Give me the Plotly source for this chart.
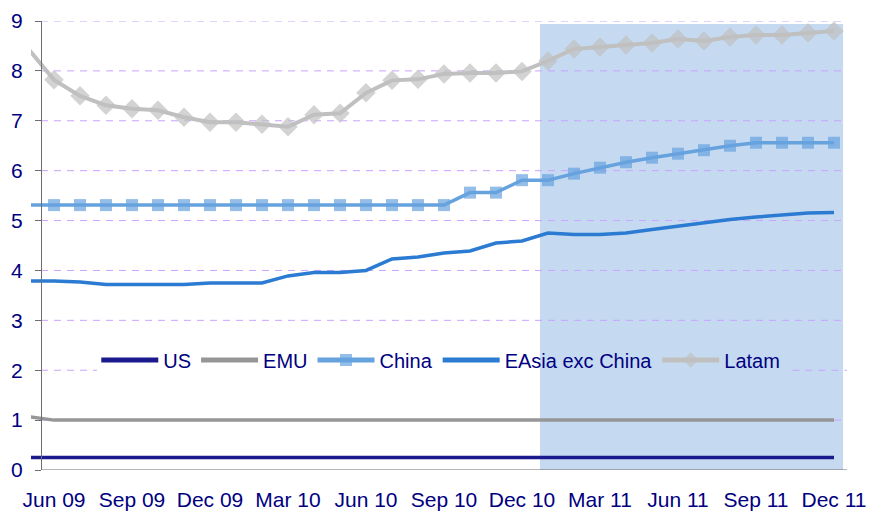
import plotly.graph_objects as go

# Monthly categories; the first one sits just left of the value axis
months = ["May 09", "Jun 09", "Jul 09", "Aug 09", "Sep 09", "Oct 09", "Nov 09", "Dec 09",
          "Jan 10", "Feb 10", "Mar 10", "Apr 10", "May 10", "Jun 10", "Jul 10", "Aug 10",
          "Sep 10", "Oct 10", "Nov 10", "Dec 10", "Jan 11", "Feb 11", "Mar 11", "Apr 11",
          "May 11", "Jun 11", "Jul 11", "Aug 11", "Sep 11", "Oct 11", "Nov 11", "Dec 11"]
tick_labels = ["Jun 09", "Sep 09", "Dec 09", "Mar 10", "Jun 10", "Sep 10",
               "Dec 10", "Mar 11", "Jun 11", "Sep 11", "Dec 11"]
y_ticks = [0, 1, 2, 3, 4, 5, 6, 7, 8, 9]

us = [0.25, 0.25, 0.25, 0.25, 0.25, 0.25, 0.25, 0.25, 0.25, 0.25, 0.25, 0.25, 0.25, 0.25, 0.25, 0.25,
      0.25, 0.25, 0.25, 0.25, 0.25, 0.25, 0.25, 0.25, 0.25, 0.25, 0.25, 0.25, 0.25, 0.25, 0.25, 0.25]
emu = [1.07, 1.00, 1.00, 1.00, 1.00, 1.00, 1.00, 1.00, 1.00, 1.00, 1.00, 1.00, 1.00, 1.00, 1.00, 1.00,
       1.00, 1.00, 1.00, 1.00, 1.00, 1.00, 1.00, 1.00, 1.00, 1.00, 1.00, 1.00, 1.00, 1.00, 1.00, 1.00]
china = [5.31, 5.31, 5.31, 5.31, 5.31, 5.31, 5.31, 5.31, 5.31, 5.31, 5.31, 5.31, 5.31, 5.31, 5.31, 5.31,
         5.31, 5.56, 5.56, 5.81, 5.81, 5.94, 6.06, 6.17, 6.26, 6.34, 6.41, 6.50, 6.56, 6.56, 6.56, 6.56]
easia = [3.79, 3.79, 3.77, 3.72, 3.72, 3.72, 3.72, 3.75, 3.75, 3.75, 3.89, 3.96, 3.96, 4.00, 4.23, 4.27,
         4.35, 4.39, 4.55, 4.59, 4.75, 4.72, 4.72, 4.75, 4.82, 4.89, 4.95, 5.02, 5.07, 5.11, 5.15, 5.16]
latam = [8.45, 7.82, 7.50, 7.31, 7.24, 7.21, 7.07, 6.97, 6.97, 6.93, 6.88, 7.12, 7.15, 7.56, 7.81, 7.83,
         7.94, 7.96, 7.96, 7.99, 8.20, 8.44, 8.48, 8.52, 8.56, 8.64, 8.60, 8.68, 8.72, 8.72, 8.76, 8.80]

# Forecast period shading (category index units, May 09 = 0)
forecast_start, forecast_end = 19.69, 31.35

NAVY = "#000080"
FONT = "Liberation Sans, Arial, sans-serif"
FS = 21
GRID = "#C9A3FF"
AXIS = "#6E6E6E"

n = len(months)
hide_first = [0] + [1] * (n - 1)

fig = go.Figure()
fig.add_trace(go.Scatter(x=months, y=us, name="US", mode="lines",
                         line=dict(color="#1A1A8E", width=3.5)))
fig.add_trace(go.Scatter(x=months, y=emu, name="EMU", mode="lines",
                         line=dict(color="#969696", width=3.5)))
fig.add_trace(go.Scatter(x=months, y=china, name="China", mode="lines+markers",
                         line=dict(color="#66A2DE", width=3.5),
                         marker=dict(symbol="square", color="#66A2DE", line=dict(width=0),
                                     size=[12 * k for k in hide_first])))
fig.add_trace(go.Scatter(x=months, y=easia, name="EAsia exc China", mode="lines",
                         line=dict(color="#2B7BD2", width=3.5)))
fig.add_trace(go.Scatter(x=months, y=latam, name="Latam", mode="lines+markers",
                         line=dict(color="#C0C0C0", width=4),
                         marker=dict(symbol="diamond", color="#C0C0C0", line=dict(width=0),
                                     size=[15 * k for k in hide_first])))

shapes = [dict(type="rect", xref="x", yref="y", x0=forecast_start, x1=forecast_end,
               y0=0, y1=8.94, fillcolor="#C5DAF1", line=dict(width=0), layer="below")]
for v in y_ticks[1:]:
    segs = [(0.5, 31.5)]
    if v == 2:
        segs = [(0.5, 2.65), (29.4, 31.5)]
    for a, b in segs:
        shapes.append(dict(type="line", xref="x", yref="y", x0=a, x1=b, y0=v, y1=v,
                           line=dict(color=GRID, width=1, dash="7px,6px"), layer="below"))
shapes.append(dict(type="line", xref="x", yref="y", x0=0.5, x1=31.5, y0=0, y1=0,
                   line=dict(color=AXIS, width=1.2), layer="above"))

fig.update_layout(
    width=871, height=512,
    margin=dict(l=31, r=24, t=21, b=42, autoexpand=False),
    paper_bgcolor="white", plot_bgcolor="white",
    font=dict(family=FONT, size=FS, color=NAVY),
    shapes=shapes,
    showlegend=True,
    legend=dict(orientation="h", x=0.08, y=0.245, xanchor="left", yanchor="middle",
                bgcolor="rgba(0,0,0,0)", font=dict(family=FONT, size=20, color=NAVY),
                itemsizing="constant", itemwidth=57, traceorder="normal"),
    xaxis=dict(type="category", range=[0.115, 31.5], tickmode="array",
               tickvals=tick_labels, ticktext=tick_labels, ticks="",
               showgrid=False, showline=False, zeroline=False, automargin=False,
               ticklabelstandoff=15,
               tickfont=dict(family=FONT, size=FS, color=NAVY)),
    xaxis2=dict(type="linear", overlaying="x", anchor="y", side="bottom",
                range=[0.115, 31.5], tickmode="array",
                tickvals=[0.5 + 3 * k for k in range(11)], automargin=False,
                ticks="outside", ticklen=6, tickcolor=AXIS, tickwidth=1.2,
                showticklabels=False, showgrid=False, showline=False, zeroline=False),
    yaxis=dict(range=[0, 9], tickvals=y_ticks, anchor="free", position=10 / 816,
               showline=True, linecolor=AXIS, linewidth=1.2, automargin=False,
               ticks="outside", ticklen=6, tickcolor=AXIS, tickwidth=1.2,
               showgrid=False, zeroline=False, ticklabelstandoff=8,
               tickfont=dict(family=FONT, size=FS, color=NAVY)),
)

fig.write_html("out.html")
